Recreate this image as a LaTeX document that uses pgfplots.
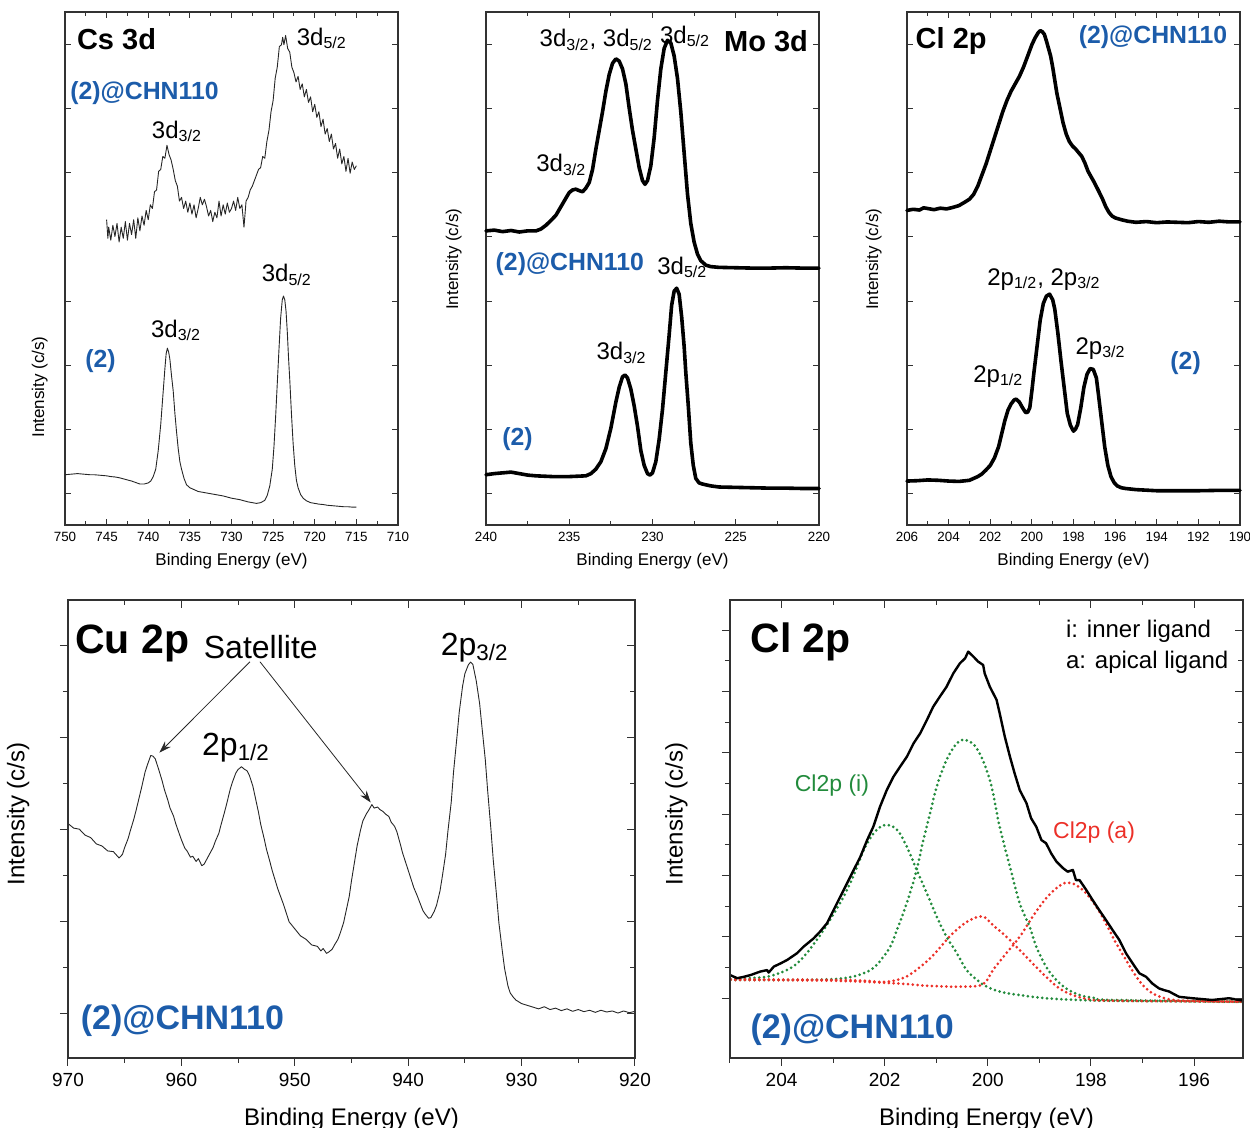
\documentclass[border=0pt]{standalone}
\usepackage{fontspec}
\setmainfont{Liberation Sans}
\usepackage{pgfplots}
\pgfplotsset{compat=1.18}
\usetikzlibrary{arrows.meta}
\definecolor{lblue}{RGB}{28,92,170}
\definecolor{fgreen}{RGB}{34,139,60}
\definecolor{fred}{RGB}{236,48,40}
\definecolor{frame}{RGB}{50,50,50}
\newcommand{\fs}[1]{\fontsize{#1}{#1}\selectfont}
\pgfplotsset{
  xps/.style={scale only axis, anchor=south west, clip=false, x dir=reverse,
    axis line style={line width=0.6pt, frame},
    every tick/.style={frame, line width=0.5pt},
    yticklabels={},
    /pgf/number format/assume math mode=true,
    /pgf/number format/1000 sep={},
    minor x tick num=1, minor y tick num=1,
    label style={inner sep=0pt}},
  toprow/.style={xps, width=166.5pt, height=256.5pt, ymin=0, ymax=1378,
    ytick={85,257.1,429.3,601.4,773.6,945.7,1117.8,1290},
    tick align=inside, major tick length=3pt, minor tick length=1.8pt,
    tick label style={font=\fs{6.7}},
    xlabel={Binding Energy (eV)}, ylabel={Intensity (c/s)},
    xlabel style={font=\fs{8.5}, at={(rel axis cs:0.5,0)}, anchor=center, yshift=-18pt},
    ylabel style={font=\fs{8.5}, anchor=south}},
  botcommon/.style={xps, height=229pt, major tick length=4pt, minor tick length=2.5pt},
  bottomrow/.style={botcommon, tick align=outside, xtick pos=left, ytick pos=left,
    tick label style={font=\fs{9.5}},
    xlabel={Binding Energy (eV)}, ylabel={Intensity (c/s)},
    xlabel style={font=\fs{12}, at={(rel axis cs:0.5,0)}, anchor=center, yshift=-30.5pt},
    ylabel style={font=\fs{12}, anchor=south}},
  bottomover/.style={botcommon, tick align=inside, xtick pos=right, ytick pos=right, xticklabels={}},
  thinline/.style={black!85, line width=0.45pt, line join=round},
  thickline/.style={black, line width=1.8pt, line join=round, line cap=round},
  dotg/.style={fgreen, line width=1.5pt, line cap=round, dash pattern=on 0pt off 2.4pt, smooth, tension=0.6},
  dotr/.style={fred, line width=1.5pt, line cap=round, dash pattern=on 0pt off 2.4pt, smooth, tension=0.6},
}
\tikzset{lab/.style={inner sep=0pt, anchor=west}, blab/.style={inner sep=0pt, anchor=base west}}
\begin{document}
\begin{tikzpicture}
\useasboundingbox (0,0) rectangle (625pt,564pt);

% ---------------- Panel 1: Cs 3d ----------------
\begin{axis}[toprow, at={(32.5pt,301.5pt)}, xmin=710, xmax=750, xtick={710,715,...,750},
  ylabel style={at={(rel axis cs:-0.051,0.269)}}]
\addplot[thinline] coordinates {
(745.00,820)(744.85,770)(744.75,800)(744.50,765)(744.25,805)(744.00,775)(743.75,810)(743.50,760)
(743.25,800)(743.00,770)(742.75,815)(742.50,765)(742.25,810)(742.00,780)(741.75,820)(741.50,770)
(741.25,825)(741.00,790)(740.75,830)(740.50,805)(740.25,845)(740.00,820)(739.75,860)(739.50,850)
(739.25,895)(739.00,900)(738.75,950)(738.50,955)(738.25,990)(738.00,985)(737.75,1020)(737.50,995)
(737.25,980)(737.00,955)(736.75,925)(736.50,910)(736.25,870)(736.00,880)(735.75,850)(735.50,870)
(735.25,840)(735.00,865)(734.75,835)(734.50,860)(734.25,825)(734.00,850)(733.75,880)(733.50,860)
(733.25,875)(733.00,855)(732.75,830)(732.50,845)(732.25,815)(732.00,840)(731.75,825)(731.50,870)
(731.25,830)(731.00,860)(730.75,835)(730.50,865)(730.25,840)(730.00,850)(729.75,870)(729.50,845)
(729.25,880)(729.00,850)(728.75,860)(728.50,800)(728.25,870)(728.00,880)(727.75,900)(727.50,910)
(727.25,925)(727.00,940)(726.75,955)(726.50,960)(726.25,990)(726.00,985)(725.75,1030)(725.50,1060)
(725.25,1110)(725.00,1140)(724.75,1200)(724.50,1230)(724.25,1285)(724.00,1290)(723.85,1310)(723.70,1290)
(723.50,1315)(723.25,1280)(723.00,1270)(722.75,1230)(722.50,1215)(722.25,1190)(722.00,1205)(721.75,1170)
(721.50,1185)(721.25,1150)(721.00,1170)(720.75,1135)(720.50,1150)(720.25,1110)(720.00,1130)(719.75,1095)
(719.50,1110)(719.25,1070)(719.00,1090)(718.75,1050)(718.50,1065)(718.25,1030)(718.00,1050)(717.75,1010)
(717.50,1025)(717.25,985)(717.00,1010)(716.75,970)(716.50,990)(716.25,950)(716.00,985)(715.75,945)
(715.50,975)(715.25,955)(715.00,965)};
\addplot[thinline] coordinates {
(750,135)(749.5,136)(749,137)(748.5,138)(748,137)(747.5,136)(747,135)(746.5,135)(746,134)(745.5,133)
(745,132)(744.5,130)(744,129)(743.5,127)(743,124)(742.5,121)(742,118)(741.5,114)(741,110)(740.5,110)
(740,113)(739.7,118)(739.4,130)(739.1,150)(738.8,200)(738.5,270)(738.2,360)(738.0,420)(737.85,460)
(737.7,475)(737.55,465)(737.4,445)(737.2,400)(737.0,360)(736.8,300)(736.6,250)(736.4,205)(736.2,170)
(736.0,150)(735.7,125)(735.4,108)(735.0,100)(734.5,95)(734,90)(733.5,88)(733,86)(732.5,84)(732,82)
(731.5,80)(731,78)(730.5,75)(730,72)(729.5,70)(729,68)(728.5,65)(728,62)(727.5,60)(727,58)(726.5,60)
(726,66)(725.7,80)(725.4,105)(725.1,150)(724.9,210)(724.7,290)(724.5,380)(724.3,470)(724.1,555)
(723.9,605)(723.75,615)(723.6,605)(723.45,575)(723.3,520)(723.15,450)(723.0,390)(722.8,300)(722.6,220)
(722.4,160)(722.2,120)(722.0,100)(721.7,82)(721.4,72)(721,65)(720.5,60)(720,58)(719.5,56)(719,55)
(718.5,53)(718,52)(717.5,51)(717,50)(716.5,49)(716,49)(715.5,48)(715,48)};
\node[lab, font=\fs{14.5}\bfseries] at (axis cs:748.6,1305) {Cs 3d};
\node[lab, font=\fs{12.4}\bfseries, text=lblue] at (axis cs:749.4,1160) {(2)@CHN110};
\node[blab, font=\fs{12}] at (axis cs:722.2,1289) {3d\textsubscript{5/2}};
\node[blab, font=\fs{12}] at (axis cs:739.6,1039) {3d\textsubscript{3/2}};
\node[blab, font=\fs{12}] at (axis cs:726.4,654) {3d\textsubscript{5/2}};
\node[blab, font=\fs{12}] at (axis cs:739.7,504) {3d\textsubscript{3/2}};
\node[lab, font=\fs{12.4}\bfseries, text=lblue] at (axis cs:747.6,440) {(2)};
\end{axis}

% ---------------- Panel 2: Mo 3d ----------------
\begin{axis}[toprow, at={(243pt,301.5pt)}, xmin=220, xmax=240, xtick={220,225,...,240},
  ylabel style={at={(rel axis cs:-0.072,0.518)}}]
\addplot[thickline] coordinates {
(240.0,790)(239.5,792)(239.0,788)(238.5,791)(238.0,787)(237.5,790)(237.0,790)(236.7,795)(236.4,805)
(236.1,818)(235.8,832)(235.5,855)(235.2,878)(235.0,893)(234.8,900)(234.6,902)(234.4,898)(234.2,895)
(234.0,905)(233.8,920)(233.6,955)(233.4,1010)(233.2,1060)(233.0,1110)(232.8,1165)(232.6,1210)
(232.4,1240)(232.2,1252)(232.0,1246)(231.8,1225)(231.6,1185)(231.4,1120)(231.2,1060)(231.0,1010)
(230.8,960)(230.6,925)(230.45,915)(230.3,925)(230.1,965)(229.9,1040)(229.7,1140)(229.5,1225)
(229.3,1280)(229.1,1302)(228.9,1295)(228.7,1260)(228.5,1200)(228.3,1110)(228.1,1000)(227.9,890)
(227.7,810)(227.5,760)(227.3,728)(227.1,710)(226.8,698)(226.5,694)(226.0,692)(225.0,691)(224.0,690)
(223.0,690)(222.0,691)(221.0,690)(220.0,690)};
\addplot[thickline] coordinates {
(240,135)(239.5,138)(239,140)(238.5,142)(238,138)(237.5,134)(237,132)(236,130)(235,130)(234.5,131)
(234,132)(233.7,138)(233.4,150)(233.1,170)(232.8,205)(232.5,260)(232.2,330)(232.0,370)(231.8,398)
(231.65,403)(231.5,395)(231.3,365)(231.1,320)(230.9,265)(230.7,200)(230.5,160)(230.3,138)(230.15,134)
(230.0,140)(229.8,170)(229.6,230)(229.4,310)(229.2,410)(229.0,510)(228.85,590)(228.7,628)(228.55,636)
(228.4,620)(228.25,560)(228.1,480)(228.0,410)(227.85,320)(227.7,220)(227.55,160)(227.4,125)(227.2,113)
(227.0,110)(226.5,105)(226,102)(225,101)(224,100)(223,99)(222,99)(221,98)(220,98)};
\node[inner sep=0pt, anchor=east, font=\fs{14.5}\bfseries] at (axis cs:220.64,1300) {Mo 3d};
\node[blab, font=\fs{12}] at (axis cs:236.8,1284) {3d\textsubscript{3/2}, 3d\textsubscript{5/2}};
\node[blab, font=\fs{12}] at (axis cs:229.57,1294) {3d\textsubscript{5/2}};
\node[blab, font=\fs{12}] at (axis cs:237.0,949) {3d\textsubscript{3/2}};
\node[lab, font=\fs{12.4}\bfseries, text=lblue] at (axis cs:239.44,700) {(2)@CHN110};
\node[blab, font=\fs{12}] at (axis cs:229.73,674) {3d\textsubscript{5/2}};
\node[blab, font=\fs{12}] at (axis cs:233.38,444) {3d\textsubscript{3/2}};
\node[lab, font=\fs{12.4}\bfseries, text=lblue] at (axis cs:239.04,230) {(2)};
\end{axis}

% ---------------- Panel 3: Cl 2p ----------------
\begin{axis}[toprow, at={(453.5pt,301.5pt)}, xmin=190, xmax=206, xtick={190,192,...,206},
  ylabel style={at={(rel axis cs:-0.075,0.518)}}]
\addplot[thickline] coordinates {
(206.0,845)(205.7,848)(205.4,846)(205.2,852)(205.0,850)(204.7,847)(204.4,851)(204.1,849)(203.8,853)
(203.5,858)(203.2,868)(203.0,875)(202.8,888)(202.6,910)(202.4,940)(202.2,970)(202.0,1005)(201.8,1040)
(201.6,1075)(201.4,1110)(201.2,1140)(201.0,1165)(200.8,1185)(200.6,1205)(200.4,1230)(200.2,1260)
(200.0,1290)(199.85,1308)(199.7,1322)(199.6,1328)(199.5,1325)(199.4,1318)(199.3,1300)(199.2,1280)
(199.1,1260)(199.0,1230)(198.9,1195)(198.8,1160)(198.65,1120)(198.5,1080)(198.35,1050)(198.2,1030)
(198.05,1018)(197.9,1010)(197.75,1000)(197.6,990)(197.45,972)(197.3,950)(197.15,935)(197.0,920)
(196.8,898)(196.6,875)(196.45,855)(196.3,840)(196.15,830)(196.0,825)(195.7,820)(195.4,816)(195.0,813)
(194.5,815)(194.0,812)(193.5,814)(193.0,813)(192.5,812)(192.0,815)(191.5,813)(191.0,816)(190.5,814)
(190.0,814)};
\addplot[thickline] coordinates {
(206.0,118)(205.5,119)(205,121)(204.5,120)(204,118)(203.5,117)(203.0,120)(202.8,125)(202.6,130)
(202.4,137)(202.2,148)(202.0,160)(201.8,180)(201.6,210)(201.45,245)(201.3,280)(201.15,308)(201.0,325)
(200.85,336)(200.75,338)(200.6,330)(200.45,315)(200.3,302)(200.2,303)(200.1,315)(200.0,360)(199.9,410)
(199.75,480)(199.6,550)(199.45,595)(199.3,615)(199.15,620)(199.0,605)(198.9,580)(198.75,515)(198.6,440)
(198.45,370)(198.3,300)(198.15,268)(198.0,252)(197.9,258)(197.8,270)(197.65,315)(197.5,370)(197.35,405)
(197.2,420)(197.05,418)(196.9,395)(196.8,350)(196.65,280)(196.5,210)(196.35,160)(196.2,130)(196.05,114)
(195.9,105)(195.7,100)(195.5,98)(195,95)(194,92)(193,92)(192,92)(191,93)(190,93)};
\node[lab, font=\fs{14.5}\bfseries] at (axis cs:205.6,1300) {Cl 2p};
\node[lab, font=\fs{12.4}\bfseries, text=lblue] at (axis cs:197.76,1310) {(2)@CHN110};
\node[blab, font=\fs{12}] at (axis cs:202.16,644) {2p\textsubscript{1/2}, 2p\textsubscript{3/2}};
\node[blab, font=\fs{12}] at (axis cs:197.92,459) {2p\textsubscript{3/2}};
\node[blab, font=\fs{12}] at (axis cs:202.83,384) {2p\textsubscript{1/2}};
\node[lab, font=\fs{12.4}\bfseries, text=lblue] at (axis cs:193.36,435) {(2)};
\end{axis}

% ---------------- Panel 4: Cu 2p ----------------
\begin{axis}[bottomrow, at={(34pt,35pt)}, width=283.5pt, xmin=920, xmax=970, xtick={920,930,...,970},
  ymin=0, ymax=1305, ytick={128,389.75,651.5,913.25,1175},
  ylabel style={at={(rel axis cs:-0.0675,0.533)}}]
\addplot[thinline] coordinates {
(970.0,668)(969.5,655)(969.0,652)(968.5,635)(968.0,628)(967.5,610)(967.0,604)(966.5,590)(966.0,588)
(965.5,570)(965.2,580)(965.0,600)(964.7,625)(964.5,648)(964.2,680)(964.0,705)(963.7,745)(963.5,772)
(963.2,815)(963.0,835)(962.7,862)(962.5,860)(962.3,852)(962.0,822)(961.7,790)(961.5,765)(961.2,735)
(961.0,712)(960.7,690)(960.5,668)(960.2,640)(960.0,622)(959.7,598)(959.5,590)(959.2,572)(959.0,575)
(958.7,560)(958.5,568)(958.2,548)(958.0,552)(957.7,570)(957.5,582)(957.2,600)(957.0,618)(956.7,640)
(956.5,665)(956.2,700)(956.0,725)(955.7,765)(955.5,786)(955.2,812)(955.0,822)(954.7,830)(954.5,824)
(954.2,818)(954.0,805)(953.7,775)(953.5,745)(953.2,700)(953.0,665)(952.7,625)(952.5,595)(952.2,560)
(952.0,535)(951.5,482)(951.0,438)(950.5,388)(950.0,368)(949.5,348)(949.0,338)(948.5,322)(948.0,318)
(947.7,305)(947.5,312)(947.2,298)(947.0,302)(946.7,310)(946.5,322)(946.2,338)(946.0,355)(945.7,385)
(945.5,415)(945.2,460)(945.0,505)(944.7,565)(944.5,605)(944.2,650)(944.0,675)(943.7,695)(943.5,705)
(943.2,722)(943.0,712)(942.7,715)(942.5,708)(942.2,702)(942.0,695)(941.7,688)(941.5,672)(941.2,660)
(941.0,645)(940.7,610)(940.5,585)(940.2,555)(940.0,535)(939.7,505)(939.5,485)(939.2,462)(939.0,445)
(938.7,420)(938.5,410)(938.2,398)(938.0,400)(937.7,418)(937.5,435)(937.2,475)(937.0,515)(936.7,580)
(936.5,645)(936.2,730)(936.0,815)(935.7,915)(935.5,985)(935.2,1060)(935.0,1095)(934.7,1120)(934.5,1128)
(934.3,1122)(934.0,1075)(933.7,1010)(933.5,945)(933.2,850)(933.0,765)(932.7,650)(932.5,565)(932.2,460)
(932.0,385)(931.7,305)(931.5,255)(931.2,205)(931.0,185)(930.7,172)(930.5,165)(930.0,155)(929.5,150)
(929.0,145)(928.5,140)(928.0,146)(927.5,138)(927.0,142)(926.5,135)(926.0,140)(925.5,133)(925.0,138)
(924.5,132)(924.0,136)(923.5,130)(923.0,136)(922.5,131)(922.0,134)(921.5,128)(921.0,134)(920.5,129)
(920.0,133)};
\node[lab, font=\fs{20.5}\bfseries] at (axis cs:969.4,1180) {Cu 2p};
\node[lab, font=\fs{16}] at (axis cs:958.05,1170) {Satellite};
\node[blab, font=\fs{16}] at (axis cs:937.15,1147) {2p\textsubscript{3/2}};
\node[blab, font=\fs{16}] at (axis cs:958.2,862) {2p\textsubscript{1/2}};
\node[lab, font=\fs{17}\bfseries, text=lblue] at (axis cs:968.9,105) {(2)@CHN110};
\draw[-{Stealth[length=6pt,width=4pt]}, line width=0.4pt, black!85] (axis cs:953.95,1129) -- (axis cs:961.94,870);
\draw[-{Stealth[length=6pt,width=4pt]}, line width=0.4pt, black!85] (axis cs:953.07,1129) -- (axis cs:943.3,728);
\end{axis}
\begin{axis}[bottomover, at={(34pt,35pt)}, width=283.5pt, xmin=920, xmax=970, xtick={920,930,...,970},
  ymin=0, ymax=1305, ytick={128,389.75,651.5,913.25,1175}]
\end{axis}

% ---------------- Panel 5: Cl 2p fit ----------------
\begin{axis}[bottomrow, at={(365pt,35pt)}, width=256.5pt, xmin=195.05, xmax=205, xtick={196,198,...,204},
  minor x tick num=0, minor xtick={195,197,199,201,203,205},
  ymin=0, ymax=1303, ytick={170,344.5,519,693.5,868,1042.5,1217},
  ylabel style={at={(rel axis cs:-0.082,0.533)}}]
\addplot[dotg] coordinates {
(204.99,224)(204.66,227)(204.34,230)(204.15,236)(203.96,246)(203.76,262)(203.57,288)(203.37,325)
(203.18,365)(202.99,410)(202.80,458)(202.60,520)(202.41,590)(202.21,640)(201.99,663)(201.76,649)
(201.57,601)(201.38,535)(201.18,468)(200.99,402)(200.80,345)(200.60,298)(200.41,250)(200.21,222)
(200.02,203)(199.77,189)(199.38,179)(198.87,170)(198.22,165)(197.58,163)(195.04,160)};
\addplot[dotg] coordinates {
(204.99,222)(203.70,222)(203.05,224)(202.80,227)(202.60,232)(202.41,241)(202.28,250)(202.15,265)
(202.02,289)(201.89,317)(201.76,365)(201.64,412)(201.51,469)(201.38,535)(201.25,620)(201.12,696)
(200.99,772)(200.80,848)(200.60,895)(200.44,905)(200.21,880)(199.96,791)(199.77,658)(199.57,544)
(199.38,440)(199.19,374)(199.06,317)(198.87,260)(198.67,222)(198.48,198)(198.22,179)(197.90,170)
(197.58,165)(195.04,160)};
\addplot[dotr] coordinates {
(204.99,224)(203.05,222)(202.41,220)(202.15,217)(201.96,217)(201.76,222)(201.57,232)(201.38,251)
(201.18,275)(200.99,303)(200.80,336)(200.60,365)(200.34,393)(200.09,402)(199.90,378)(199.64,345)
(199.38,307)(199.13,269)(198.87,231)(198.61,198)(198.35,179)(198.03,167)(197.58,163)(195.04,160)};
\addplot[dotr] coordinates {
(204.99,222)(203.05,220)(201.76,212)(201.12,205)(200.48,203)(200.09,210)(199.90,250)(199.64,298)
(199.38,345)(199.13,402)(198.87,454)(198.67,483)(198.48,499)(198.29,492)(198.09,468)(197.90,431)
(197.71,383)(197.51,326)(197.32,279)(197.12,231)(196.93,198)(196.74,179)(196.48,167)(196.16,163)
(195.04,160)};
\addplot[black, line width=1.2pt, line join=round] coordinates {
(205.00,236)(204.86,227)(204.73,231)(204.60,236)(204.41,246)(204.28,250)(204.25,243)(204.15,260)
(204.02,269)(203.89,279)(203.70,298)(203.57,317)(203.38,340)(203.25,360)(203.12,383)(202.99,421)
(202.86,459)(202.73,497)(202.60,535)(202.47,573)(202.34,620)(202.22,658)(202.09,715)(201.96,762)
(201.83,800)(201.70,829)(201.57,857)(201.44,895)(201.31,924)(201.18,962)(201.06,999)(200.93,1028)
(200.80,1056)(200.67,1094)(200.54,1123)(200.44,1137)(200.38,1156)(200.28,1142)(200.19,1128)
(200.09,1118)(200.06,1094)(199.96,1056)(199.83,1019)(199.77,981)(199.67,914)(199.57,857)(199.48,810)
(199.38,762)(199.25,725)(199.16,682)(199.06,658)(198.96,620)(198.87,611)(198.77,582)(198.67,559)
(198.54,540)(198.45,530)(198.35,535)(198.29,506)(198.22,506)(198.09,478)(197.97,450)(197.84,421)
(197.71,393)(197.58,364)(197.45,336)(197.32,298)(197.19,269)(197.06,241)(196.93,231)(196.81,212)
(196.68,198)(196.58,193)(196.48,189)(196.42,184)(196.29,174)(196.03,170)(195.65,165)(195.32,170)
(195.05,163)};
\node[lab, font=\fs{20.5}\bfseries] at (axis cs:204.61,1185) {Cl 2p};
\node[lab, font=\fs{12}] at (axis cs:198.49,1215) {i: inner ligand};
\node[lab, font=\fs{12}] at (axis cs:198.49,1127) {a: apical ligand};
\node[lab, font=\fs{11.5}, text=fgreen] at (axis cs:203.75,775) {Cl2p (i)};
\node[lab, font=\fs{11.5}, text=fred] at (axis cs:198.74,640) {Cl2p (a)};
\node[lab, font=\fs{17}\bfseries, text=lblue] at (axis cs:204.61,80) {(2)@CHN110};
\end{axis}
\begin{axis}[bottomover, at={(365pt,35pt)}, width=256.5pt, xmin=195.05, xmax=205, xtick={196,198,...,204},
  minor x tick num=0, minor xtick={195,197,199,201,203,205},
  ymin=0, ymax=1303, ytick={170,344.5,519,693.5,868,1042.5,1217}]
\end{axis}
\end{tikzpicture}
\end{document}
